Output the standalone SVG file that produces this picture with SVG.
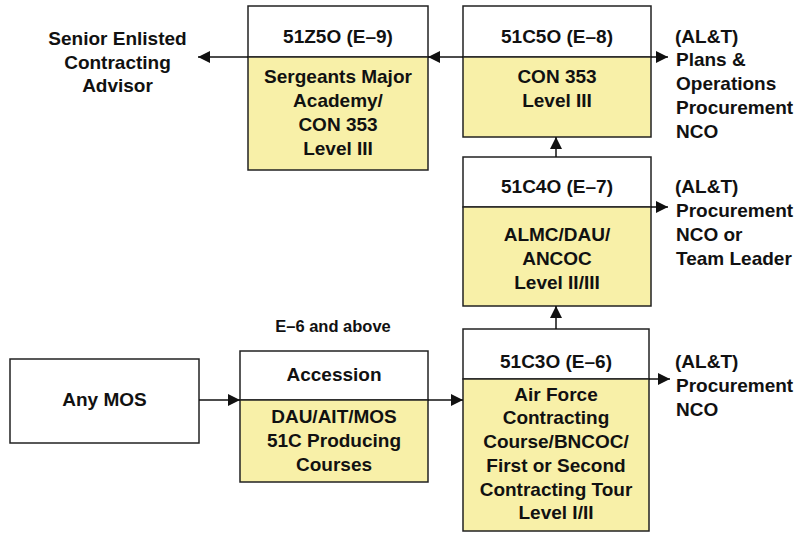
<svg xmlns="http://www.w3.org/2000/svg" width="799" height="533" viewBox="0 0 799 533">
<defs>
<style>
text{font-family:"Liberation Sans",Arial,sans-serif;font-weight:bold;font-size:19px;fill:#111}
.c{text-anchor:middle}
.box{fill:#fff;stroke:#222;stroke-width:1.5}
.body{fill:#f8f0a8;stroke:#222;stroke-width:1.5}
.conn line{stroke:#111;stroke-width:1.5;marker-end:url(#ah)}
</style>
<marker id="ah" markerUnits="userSpaceOnUse" markerWidth="12" markerHeight="12" refX="10" refY="5" orient="auto" viewBox="0 0 10 10">
<path d="M0,0 L10,5 L0,10 z" fill="#111"/>
</marker>
</defs>
<rect width="799" height="533" fill="#fff"/>

<g id="anymos">
<rect class="box" x="10" y="359" width="189" height="84"/>
<text class="c" x="104.5" y="406">Any MOS</text>
</g>

<g id="accession">
<rect class="box" x="240" y="351" width="188" height="49"/>
<rect class="body" x="240" y="400" width="188" height="82"/>
<text class="c" x="334" y="381">Accession</text>
<text class="c" x="334" y="423">DAU/AIT/MOS</text>
<text class="c" x="334" y="447">51C Producing</text>
<text class="c" x="334" y="471">Courses</text>
<text class="c" x="333" y="332" style="font-size:16.5px">E–6 and above</text>
</g>

<g id="n51c3o">
<rect class="box" x="463" y="329" width="186" height="50"/>
<rect class="body" x="463" y="379" width="186" height="152"/>
<text class="c" x="556" y="368">51C3O (E–6)</text>
<text class="c" x="556" y="401">Air Force</text>
<text class="c" x="556" y="424">Contracting</text>
<text class="c" x="556" y="448">Course/BNCOC/</text>
<text class="c" x="556" y="472">First or Second</text>
<text class="c" x="556" y="496">Contracting Tour</text>
<text class="c" x="556" y="519">Level I/II</text>
</g>

<g id="n51c4o">
<rect class="box" x="463" y="157" width="188" height="50"/>
<rect class="body" x="463" y="207" width="188" height="99"/>
<text class="c" x="557" y="193">51C4O (E–7)</text>
<text class="c" x="557" y="241">ALMC/DAU/</text>
<text class="c" x="557" y="265">ANCOC</text>
<text class="c" x="557" y="289">Level II/III</text>
</g>

<g id="n51c5o">
<rect class="box" x="463" y="6" width="188" height="51"/>
<rect class="body" x="463" y="57" width="188" height="80"/>
<text class="c" x="557" y="43">51C5O (E–8)</text>
<text class="c" x="557" y="83">CON 353</text>
<text class="c" x="557" y="107">Level III</text>
</g>

<g id="n51z5o">
<rect class="box" x="248" y="6" width="180" height="51"/>
<rect class="body" x="248" y="57" width="180" height="113"/>
<text class="c" x="338" y="43">51Z5O (E–9)</text>
<text class="c" x="338" y="83">Sergeants Major</text>
<text class="c" x="338" y="107">Academy/</text>
<text class="c" x="338" y="131">CON 353</text>
<text class="c" x="338" y="155">Level III</text>
</g>

<g id="senior">
<text class="c" x="117.5" y="45">Senior Enlisted</text>
<text class="c" x="117.5" y="69">Contracting</text>
<text class="c" x="117.5" y="92">Advisor</text>
</g>

<g id="out-e8">
<text x="675" y="43">(AL&amp;T)</text>
<text x="676" y="66">Plans &amp;</text>
<text x="676" y="90">Operations</text>
<text x="676" y="114">Procurement</text>
<text x="676" y="138">NCO</text>
</g>

<g id="out-e7">
<text x="675" y="193">(AL&amp;T)</text>
<text x="676" y="217">Procurement</text>
<text x="676" y="241">NCO or</text>
<text x="676" y="265">Team Leader</text>
</g>

<g id="out-e6">
<text x="675" y="368">(AL&amp;T)</text>
<text x="676" y="392">Procurement</text>
<text x="676" y="416">NCO</text>
</g>

<g class="conn" id="connectors">
<line x1="199" y1="400" x2="240" y2="400"/>
<line x1="428" y1="400" x2="463" y2="400"/>
<line x1="649" y1="379" x2="670" y2="379"/>
<line x1="556" y1="329" x2="556" y2="306"/>
<line x1="651" y1="207" x2="668" y2="207"/>
<line x1="556" y1="157" x2="556" y2="137"/>
<line x1="651" y1="57" x2="668" y2="57"/>
<line x1="463" y1="57" x2="428" y2="57"/>
<line x1="248" y1="57" x2="198" y2="57"/>
</g>
</svg>
